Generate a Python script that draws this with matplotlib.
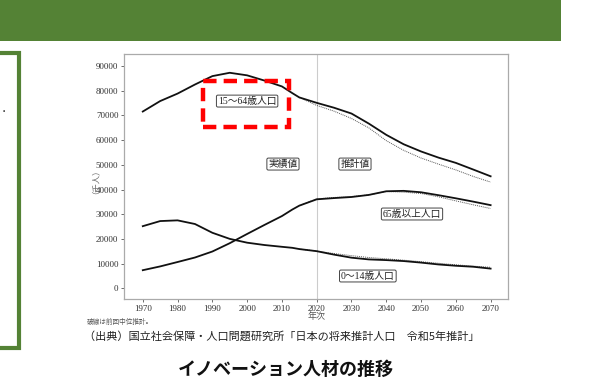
import matplotlib
matplotlib.use("Agg")
import matplotlib.pyplot as plt
from matplotlib.patches import Rectangle
import matplotlib.transforms as mtransforms

years = [1970, 1975, 1980, 1985, 1990, 1995, 2000, 2005, 2010, 2013, 2015, 2020,
         2025, 2030, 2035, 2040, 2045, 2050, 2055, 2060, 2065, 2070]
pop_15_64 = [71566, 75807, 78835, 82506, 85904, 87260, 86220, 84092, 81735, 79010, 77282, 75088,
             73101, 70757, 66670, 62133, 58323, 55402, 52919, 50781, 48087, 45350]
pop_0_14 = [25153, 27221, 27507, 26033, 22486, 20014, 18472, 17521, 16803, 16390, 15887, 15032,
            13633, 12397, 11691, 11419, 11027, 10406, 9659, 9127, 8727, 7975]
pop_65 = [7331, 8865, 10647, 12468, 14895, 18261, 22005, 25672, 29246, 31900, 33465, 36027,
          36529, 36962, 37815, 39285, 39451, 38878, 37704, 36437, 35094, 33671]

prev_years = [2015, 2020, 2025, 2030, 2035, 2040, 2045, 2050, 2055, 2060, 2065, 2070]
prev_15_64 = [77282, 74058, 71701, 68754, 64942, 59777, 55845, 52750, 50276, 47928, 45291, 43000]
prev_0_14 = [15887, 15075, 14073, 13212, 12457, 11936, 11384, 10767, 10123, 9508, 8975, 8500]
prev_65 = [33465, 36192, 36771, 37160, 37817, 39206, 38919, 38406, 37042, 35403, 33810, 32300]

xticks = [1970, 1980, 1990, 2000, 2010, 2020, 2030, 2040, 2050, 2060, 2070]
yticks = [0, 10000, 20000, 30000, 40000, 50000, 60000, 70000, 80000, 90000]

serif = ['Liberation Serif', 'Noto Sans CJK JP']
jp = ['Noto Sans CJK JP', 'DejaVu Sans']

W, H = 591, 378
fig = plt.figure(figsize=(W / 100, H / 100), dpi=100)

# header bar
fig.patches.append(Rectangle((0, 1 - 41 / H), 561 / W, 41 / H, transform=fig.transFigure,
                             facecolor='#548235', edgecolor='none', zorder=0))
# left green box
fig.patches.append(Rectangle((-20 / W, 1 - 348 / H), 39 / W, (348 - 53) / H, transform=fig.transFigure,
                             facecolor='none', edgecolor='#548235', linewidth=3.0, zorder=0))
fig.text(4 / W, 1 - 111 / H, '・', fontsize=6, family=jp, ha='center', va='center', color='#222')

ax = fig.add_axes([124 / W, 1 - 299 / H, (508 - 124) / W, (299 - 54) / H])
ax.set_xlim(1964.6, 2075.0)
ax.set_ylim(-4330, 94860)

ax.axvline(2020, color='#cccccc', lw=0.8, zorder=1)

for ys in (pop_15_64, pop_0_14, pop_65):
    ax.plot(years, ys, color='#111111', lw=1.3, zorder=3)
for ys in (prev_15_64, prev_0_14, prev_65):
    ax.plot(prev_years, ys, color='#555555', lw=0.7, ls=(0, (1, 1)), zorder=2)

for s in ax.spines.values():
    s.set_color('#aaaaaa')
    s.set_linewidth(0.9)

ax.set_xticks(xticks)
ax.set_yticks(yticks)
ax.set_xticklabels([str(v) for v in xticks], family=serif, fontsize=6.5, color='#333')
ax.set_yticklabels([str(v) for v in yticks], family=serif, fontsize=6.5, color='#333')
ax.tick_params(length=2, width=0.6, color='#555', pad=2)

bbox = dict(boxstyle='round,pad=0.15', fc='white', ec='#444', lw=0.7)
labels = [('15〜64歳人口', 2000.0, 75800), ('実績値', 2010.3, 50300), ('推計値', 2031.0, 50300),
          ('65歳以上人口', 2047.4, 30080), ('0〜14歳人口', 2034.7, 4980)]
for t, x, y in labels:
    ax.text(x, y, t, family=serif, fontsize=7, ha='center', va='center', bbox=bbox, zorder=5, color='#222')

ax.add_patch(Rectangle((1987.3, 65300), 2012.1 - 1987.3, 83930 - 65300, fill=False,
                       edgecolor='#ff0000', lw=3.2, ls=(0, (3.0, 1.6)), zorder=6, clip_on=False))

trans = mtransforms.blended_transform_factory(ax.transData, ax.transAxes)
ax.text(2020, -0.072, '年次', transform=trans, family=jp, fontsize=6.5, ha='center', va='center', color='#555')

fig.text(92 / W, 1 - 177 / H, '（千人）', rotation=90, family=jp, fontsize=6, ha='center', va='center', color='#666')

fig.text(87 / W, 1 - 322 / H, '破線は前回中位推計。', family=jp, fontsize=4.8, ha='left', va='center', color='#555')
fig.text(84 / W, 1 - 336 / H, '（出典）国立社会保障・人口問題研究所「日本の将来推計人口　令和5年推計」',
         family=jp, fontsize=8, ha='left', va='center', color='#222')
fig.text(286 / W, 1 - 369 / H, 'イノベーション人材の推移', family=jp, fontsize=13, fontweight='bold',
         ha='center', va='center', color='#111')

fig.savefig('out.png', dpi=100)
